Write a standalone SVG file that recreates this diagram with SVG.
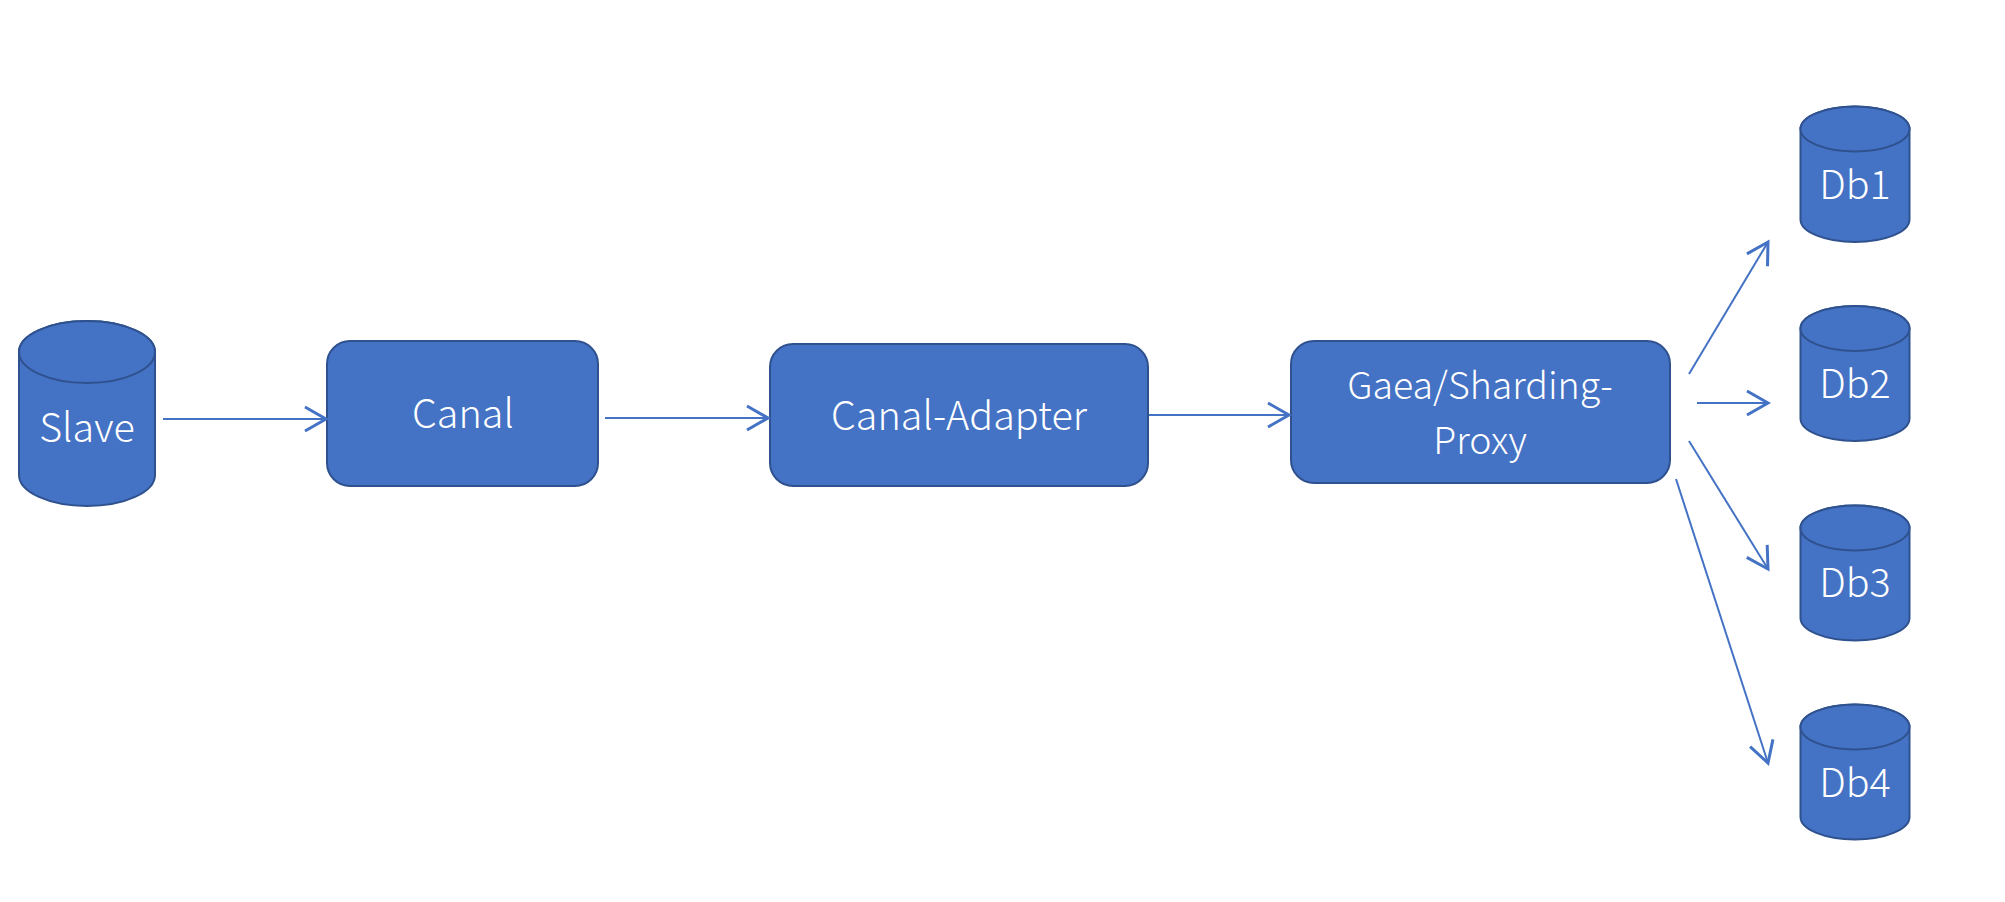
<svg xmlns="http://www.w3.org/2000/svg" width="2005" height="902" viewBox="0 0 2005 902">
<style>
.shape{fill:#4472C4;stroke:#2F528F;stroke-width:2}
.lbl{fill:#FFFFFF;font-family:"Noto Sans CJK SC","Noto Sans","Open Sans",sans-serif;font-weight:300;font-size:39.5px;text-anchor:middle}
.lbl2{font-size:37.5px}
.conn{stroke:#4472C4;stroke-width:2;fill:none;marker-end:url(#arr)}
</style>
<defs>
<marker id="arr" markerUnits="userSpaceOnUse" markerWidth="30" markerHeight="30" refX="0" refY="0" viewBox="-16 -10 20 20" orient="auto">
<path d="M-14,-8 L0,0 L-14,8" fill="none" stroke="#4472C4" stroke-width="2"/>
</marker>
</defs>
<rect width="2005" height="902" fill="#FFFFFF"/>
<g id="slave">
<path class="shape" d="M19,352 A68,31 0 0 1 155,352 V475 A68,31 0 0 1 19,475 Z"/>
<ellipse class="shape" cx="87" cy="352" rx="68" ry="31"/>
<text class="lbl" x="87" y="442">Slave</text>
</g>
<g id="canal">
<rect class="shape" x="327" y="341" width="271" height="145" rx="23" ry="23"/>
<text class="lbl" x="463" y="428">Canal</text>
</g>
<g id="canal-adapter">
<rect class="shape" x="770" y="344" width="378" height="142" rx="23" ry="23"/>
<text class="lbl" x="959" y="430">Canal-Adapter</text>
</g>
<g id="proxy">
<rect class="shape" x="1291" y="341" width="379" height="142" rx="23" ry="23"/>
<text class="lbl lbl2" x="1480" y="399">Gaea/Sharding-</text>
<text class="lbl lbl2" x="1480" y="454">Proxy</text>
</g>
<g id="db1">
<path class="shape" d="M1800.5,129 A54.5,22.5 0 0 1 1909.5,129 V219.5 A54.5,22.5 0 0 1 1800.5,219.5 Z"/>
<ellipse class="shape" cx="1855" cy="129" rx="54.5" ry="22.5"/>
<text class="lbl" x="1855" y="199">Db1</text>
</g>
<g id="db2">
<path class="shape" d="M1800.5,328.5 A54.5,22.5 0 0 1 1909.5,328.5 V418.5 A54.5,22.5 0 0 1 1800.5,418.5 Z"/>
<ellipse class="shape" cx="1855" cy="328.5" rx="54.5" ry="22.5"/>
<text class="lbl" x="1855" y="398">Db2</text>
</g>
<g id="db3">
<path class="shape" d="M1800.5,528 A54.5,22.5 0 0 1 1909.5,528 V618 A54.5,22.5 0 0 1 1800.5,618 Z"/>
<ellipse class="shape" cx="1855" cy="528" rx="54.5" ry="22.5"/>
<text class="lbl" x="1855" y="597">Db3</text>
</g>
<g id="db4">
<path class="shape" d="M1800.5,727 A54.5,22.5 0 0 1 1909.5,727 V817 A54.5,22.5 0 0 1 1800.5,817 Z"/>
<ellipse class="shape" cx="1855" cy="727" rx="54.5" ry="22.5"/>
<text class="lbl" x="1855" y="797">Db4</text>
</g>
<g id="connectors">
<line class="conn" x1="163" y1="419" x2="326" y2="419"/>
<line class="conn" x1="605" y1="418" x2="768" y2="418"/>
<line class="conn" x1="1149" y1="415" x2="1289" y2="415"/>
<line class="conn" x1="1689" y1="374" x2="1768" y2="242"/>
<line class="conn" x1="1697" y1="403" x2="1768" y2="403"/>
<line class="conn" x1="1689" y1="441" x2="1768" y2="569"/>
<line class="conn" x1="1676" y1="479" x2="1768" y2="763"/>
</g>
</svg>
